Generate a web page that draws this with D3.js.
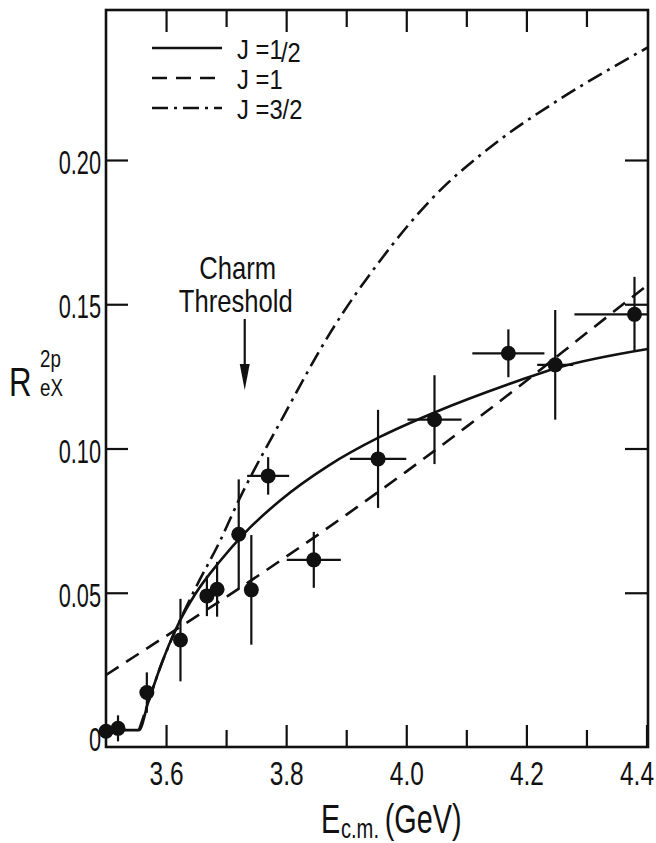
<!DOCTYPE html>
<html>
<head>
<meta charset="utf-8">
<script src="https://cdn.jsdelivr.net/npm/d3@7"></script>
<style>
  html, body { margin: 0; padding: 0; background: #fff; }
  svg text { font-family: 'Liberation Sans', Arial, sans-serif; fill: #111; }
</style>
</head>
<body>
<div id="chart"></div>
<script>
// measured points
const energy    = [3.500, 3.520, 3.568, 3.624, 3.668, 3.685, 3.721, 3.742, 3.770, 3.846, 3.953, 4.047, 4.170, 4.248, 4.380]
const ratio     = [0.002, 0.003, 0.0154, 0.0336, 0.0489, 0.0512, 0.0703, 0.051, 0.0905, 0.0614, 0.0964, 0.110, 0.133, 0.129, 0.1465]
const ratioErr  = [0, 0.0045, 0.007, 0.0143, 0.007, 0.0095, 0.019, 0.019, 0.0065, 0.0097, 0.017, 0.0154, 0.0083, 0.019, 0.013]
const energyErr = [0, 0, 0, 0, 0, 0, 0, 0, 0.035, 0.045, 0.047, 0.045, 0.06, 0.03, 0.1]

// model curves
const halfE = [3.500, 3.555, 3.570, 3.590, 3.620, 3.650, 3.690, 3.730, 3.790, 3.870, 3.956, 4.047, 4.169, 4.252, 4.402]
const halfR = [0.0024, 0.0024, 0.0118, 0.0240, 0.0390, 0.0500, 0.0610, 0.0705, 0.0820, 0.0940, 0.1040, 0.1125, 0.1222, 0.1280, 0.1345]
const oneE = [3.500, 3.600, 3.700, 3.800, 3.900, 4.000, 4.100, 4.200, 4.300, 4.402]
const oneR = [0.0215, 0.0350, 0.0485, 0.0625, 0.0770, 0.0920, 0.1075, 0.1235, 0.1400, 0.1567]
const threeHalfE = [3.555, 3.570, 3.590, 3.620, 3.650, 3.690, 3.721, 3.795, 3.873, 3.956, 4.040, 4.156, 4.255, 4.402]
const threeHalfR = [0.0024, 0.0118, 0.0240, 0.0390, 0.0520, 0.0680, 0.0820, 0.1110, 0.1400, 0.1650, 0.1860, 0.2070, 0.2210, 0.2390]

const xMajor = [3.6, 3.8, 4.0, 4.2, 4.4]
const xMinor = [3.7, 3.9, 4.1, 4.3]
const yTicks = [0, 0.05, 0.10, 0.15, 0.20]
const yTickLabels = ["0", "0.05", "0.10", "0.15", "0.20"]
const legendLabels = ["J =1", "J =1", "J =3/2"]
const threshold = 3.731

const width = 656
const height = 843
const frame = { left: 106, right: 648, top: 10, bottom: 747 }

const x = d3.scaleLinear().domain([3.5, 4.4]).range([106, 646.5])
const y = d3.scaleLinear().domain([0, 0.2]).range([737, 160])

// squeeze text horizontally around its anchor (the original lettering is very condensed)
function narrow(sel, sx) {
  sel.each(function () {
    const t = d3.select(this)
    const x0 = +t.attr("x") || 0
    t.attr("transform", `translate(${x0},0) scale(${sx},1) translate(${-x0},0)`)
  })
}

const svg = d3.select("#chart")
  .append("svg")
  .attr("width", width)
  .attr("height", height)

svg.append("defs").append("clipPath")
  .attr("id", "plot-clip")
  .append("rect")
  .attr("x", frame.left - 8)
  .attr("y", frame.top)
  .attr("width", frame.right - frame.left + 8)
  .attr("height", frame.bottom - frame.top)

// ticks
const tickStyle = g => {
  g.select(".domain").remove()
  g.selectAll("line").attr("stroke", "#111").attr("stroke-width", 2.2)
  g.selectAll("text").attr("font-size", 34).attr("fill", "#111")
}

const xAxis = svg.append("g")
  .attr("transform", `translate(0,${frame.bottom})`)
  .call(d3.axisBottom(x).tickValues(xMajor).tickSize(-22).tickPadding(14).tickFormat(d3.format(".1f")))
  .call(tickStyle)
xAxis.selectAll("text").call(narrow, 0.72)
xAxis.selectAll(".tick").filter(d => d === 4.4).select("text").attr("x", -10).call(narrow, 0.72)

svg.append("g")
  .attr("transform", `translate(0,${frame.bottom})`)
  .call(d3.axisBottom(x).tickValues(xMinor).tickSize(-17).tickFormat(""))
  .call(tickStyle)

svg.append("g")
  .attr("transform", `translate(0,${frame.top})`)
  .call(d3.axisTop(x).tickValues(xMajor.slice(0, 4)).tickSize(-22).tickFormat(""))
  .call(tickStyle)

svg.append("g")
  .attr("transform", `translate(0,${frame.top})`)
  .call(d3.axisTop(x).tickValues(xMinor).tickSize(-17).tickFormat(""))
  .call(tickStyle)

const yLeft = svg.append("g")
  .attr("transform", `translate(${frame.left},0)`)
  .call(d3.axisLeft(y).tickValues(yTicks).tickSize(-22).tickPadding(5)
    .tickFormat((d, i) => yTickLabels[i]))
  .call(tickStyle)
yLeft.selectAll(".tick").filter(d => d === 0).select("line").remove()
yLeft.selectAll("text").attr("dy", "0.40em").call(narrow, 0.64)

svg.append("g")
  .attr("transform", `translate(${frame.right},0)`)
  .call(d3.axisRight(y).tickValues(yTicks.slice(1)).tickSize(-23).tickFormat(""))
  .call(tickStyle)

// frame
svg.append("rect")
  .attr("x", frame.left)
  .attr("y", frame.top)
  .attr("width", frame.right - frame.left)
  .attr("height", frame.bottom - frame.top)
  .attr("fill", "none")
  .attr("stroke", "#111")
  .attr("stroke-width", 2.6)

const plot = svg.append("g").attr("clip-path", "url(#plot-clip)")

const line = d3.line()
  .x(d => x(d[0]))
  .y(d => y(d[1]))
  .curve(d3.curveMonotoneX)

plot.append("path")
  .datum(halfE.map((e, i) => [e, halfR[i]]))
  .attr("d", line)
  .attr("fill", "none")
  .attr("stroke", "#111")
  .attr("stroke-width", 2.6)

plot.append("path")
  .datum(oneE.map((e, i) => [e, oneR[i]]))
  .attr("d", line)
  .attr("fill", "none")
  .attr("stroke", "#111")
  .attr("stroke-width", 2.6)
  .attr("stroke-dasharray", "15,9")

plot.append("path")
  .datum(threeHalfE.map((e, i) => [e, threeHalfR[i]]))
  .attr("d", line)
  .attr("fill", "none")
  .attr("stroke", "#111")
  .attr("stroke-width", 2.6)
  .attr("stroke-dasharray", "16,6,3,6")

// data points
const pts = plot.selectAll(".pt")
  .data(energy.map((e, i) => ({ e, r: ratio[i], dr: ratioErr[i], de: energyErr[i] })))
  .enter()
  .append("g")

pts.filter(d => d.dr > 0).append("line")
  .attr("x1", d => x(d.e)).attr("x2", d => x(d.e))
  .attr("y1", d => y(d.r - d.dr)).attr("y2", d => y(d.r + d.dr))
  .attr("stroke", "#111").attr("stroke-width", 2.2)

pts.filter(d => d.de > 0).append("line")
  .attr("x1", d => x(d.e - d.de)).attr("x2", d => x(d.e + d.de))
  .attr("y1", d => y(d.r)).attr("y2", d => y(d.r))
  .attr("stroke", "#111").attr("stroke-width", 2.2)

pts.append("circle")
  .attr("cx", d => x(d.e))
  .attr("cy", d => y(d.r))
  .attr("r", 7.5)
  .attr("fill", "#111")

// legend
const legend = svg.append("g")
const dashes = [null, "15,9", "16,6,3,6"]
legendLabels.forEach((lab, i) => {
  const ly = 48 + i * 30
  legend.append("line")
    .attr("x1", 152).attr("x2", 222)
    .attr("y1", ly).attr("y2", ly)
    .attr("stroke", "#111").attr("stroke-width", 2.6)
    .attr("stroke-dasharray", dashes[i])
  const t = legend.append("text")
    .attr("x", 237).attr("y", ly + 11)
    .attr("font-size", 28)
    .text(lab)
  if (i === 0) {
    t.append("tspan").attr("dy", 3).attr("dx", -2).text("/2")
  }
  narrow(t, 0.85)
})

// annotation
const ann = svg.append("g")
ann.append("text")
  .attr("x", x(threshold) - 7).attr("y", 279)
  .attr("text-anchor", "middle")
  .attr("font-size", 32)
  .text("Charm")
ann.append("text")
  .attr("x", x(threshold) - 9).attr("y", 312)
  .attr("text-anchor", "middle")
  .attr("font-size", 32)
  .text("Threshold")
ann.selectAll("text").call(narrow, 0.8)
ann.append("line")
  .attr("x1", x(threshold)).attr("x2", x(threshold))
  .attr("y1", 319).attr("y2", 370)
  .attr("stroke", "#111").attr("stroke-width", 2.2)
ann.append("path")
  .attr("d", `M${x(threshold)},390 L${x(threshold) - 5},364 L${x(threshold) + 5},364 Z`)
  .attr("fill", "#111")

// axis titles
const yt = svg.append("g")
yt.append("text").attr("x", 9).attr("y", 396).attr("font-size", 40).text("R")
yt.append("text").attr("x", 40).attr("y", 367).attr("font-size", 24).text("2p")
yt.append("text").attr("x", 40).attr("y", 396).attr("font-size", 24).text("eX")
yt.selectAll("text").call(narrow, 0.78)

const xl = svg.append("text").attr("x", 321).attr("y", 833).attr("font-size", 40)
xl.append("tspan").text("E")
xl.append("tspan").attr("font-size", 28).attr("dy", 5).attr("dx", 1).text("c.m.")
xl.append("tspan").attr("dy", -5).attr("dx", 8).text("(GeV)")
narrow(xl, 0.72)
</script>
</body>
</html>
